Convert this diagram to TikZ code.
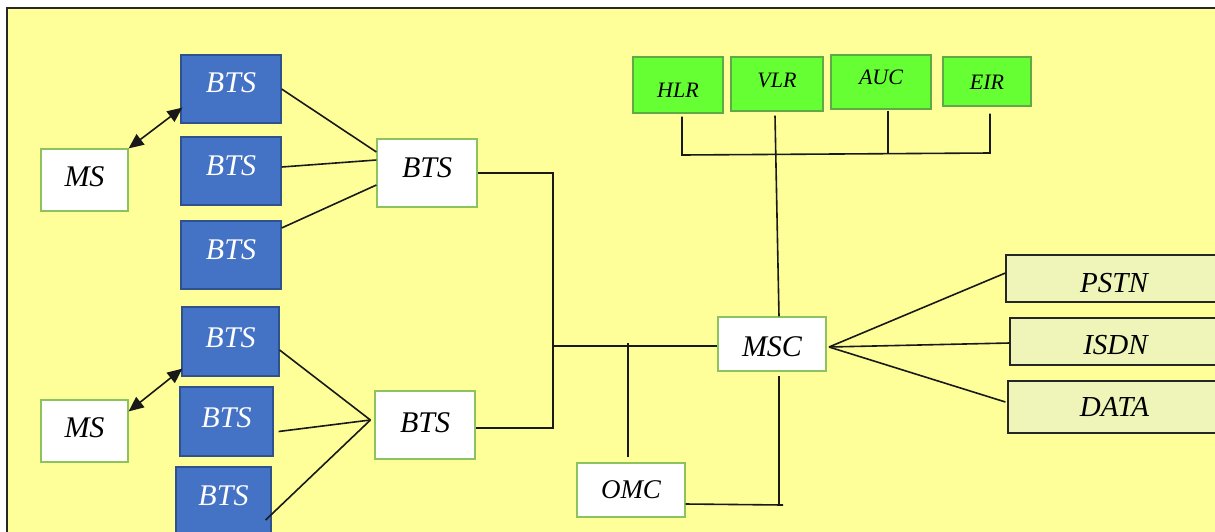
\documentclass[tikz,border=0pt]{standalone}
\usepackage{fontspec}
\setmainfont{Liberation Serif}
\usetikzlibrary{arrows.meta}

\definecolor{pagebg}{RGB}{255,255,153}
\definecolor{framecol}{RGB}{40,40,40}
\definecolor{boxedge}{RGB}{140,195,95}
\definecolor{btsfill}{RGB}{68,114,196}
\definecolor{btsedge}{RGB}{47,82,143}
\definecolor{dbfill}{RGB}{102,255,51}
\definecolor{dbedge}{RGB}{95,170,70}
\definecolor{netfill}{RGB}{239,244,185}
\definecolor{wirecol}{RGB}{25,25,25}

% text placed on the box centre, moved up by the optional amount
\newcommand\Txt[2][0pt]{\raisebox{\dimexpr-.331em+#1\relax}[0pt][0pt]{#2}}

\tikzset{
  boxbase/.style={inner sep=0pt, line width=1.2pt},
  sz/.style 2 args={minimum width=#1pt, minimum height=#2pt},
  whitebox/.style={boxbase, draw=boxedge, fill=white,
    font=\fontsize{30}{36}\selectfont\itshape},
  bluebox/.style={boxbase, draw=btsedge, fill=btsfill, text=white,
    font=\fontsize{30}{36}\selectfont\itshape},
  dbbox/.style={boxbase, draw=dbedge, fill=dbfill,
    font=\fontsize{22}{26}\selectfont\itshape},
  netbox/.style={boxbase, draw=black!85, fill=netfill,
    font=\fontsize{29}{34}\selectfont\itshape},
  wire/.style={draw=wirecol, line width=1.6pt},
  radio/.style={wire, {Triangle[length=15pt,width=13pt]}-{Triangle[length=15pt,width=13pt]}},
}

\begin{document}
\begin{tikzpicture}[x=1pt,y=-1pt]
\path[use as bounding box] (0,0) rectangle (1215,531);
\clip (0,0) rectangle (1215,531);
\fill[white] (0,0) rectangle (1215,531);
\draw[fill=pagebg, draw=framecol, line width=2pt] (7,8) rectangle (1240,560);

% radio side
\node[whitebox, sz={87}{62}] (MS1) at (84.5,180) {\Txt[3pt]{MS}};
\node[whitebox, sz={87}{62}] (MS2) at (84.5,431) {\Txt[3pt]{MS}};

\node[bluebox, sz={100}{68}] (BTS1) at (231,89) {\Txt[6pt]{BTS}};
\node[bluebox, sz={100}{68}] (BTS2) at (231,171) {\Txt[5pt]{BTS}};
\node[bluebox, sz={100}{68}] (BTS3) at (231,255) {\Txt[5pt]{BTS}};
\node[bluebox, sz={97}{69}] (BTS4) at (230.5,341.5) {\Txt[4pt]{BTS}};
\node[bluebox, sz={93}{69}] (BTS5) at (226.5,421.5) {\Txt[3.5pt]{BTS}};
\node[bluebox, sz={95}{69}] (BTS6) at (223.5,501.5) {\Txt[6pt]{BTS}};

\node[whitebox, sz={100}{68}] (BTSa) at (427,173) {\Txt[5pt]{BTS}};
\node[whitebox, sz={100}{68}] (BTSb) at (425,425) {\Txt[2.5pt]{BTS}};

% switching side
\node[whitebox, sz={108}{54}] (MSC) at (772,344) {\Txt[-3pt]{MSC}};
\node[whitebox, sz={108}{54}, font=\fontsize{27}{32}\selectfont\itshape] (OMC) at (631,490) {\Txt{OMC}};

\node[dbbox, sz={90}{56}] (HLR) at (678,85) {\Txt[-5.5pt]{HLR}};
\node[dbbox, sz={92}{54}] (VLR) at (777,84) {\Txt[4pt]{VLR}};
\node[dbbox, sz={100}{54}] (AUC) at (881,82) {\Txt[4.5pt]{AUC}};
\node[dbbox, sz={88}{49}] (EIR) at (987,81.5) {\Txt[-1pt]{EIR}};

\node[netbox, sz={216}{47}] (PSTN) at (1114,278.5) {\Txt[-4pt]{PSTN}};
\node[netbox, sz={211}{47}] (ISDN) at (1115.5,341.5) {\Txt[-3.5pt]{ISDN}};
\node[netbox, sz={213}{52}] (DATA) at (1114.5,407) {\Txt{DATA}};

% junction points
\coordinate (hubB) at ([xshift=-4pt,yshift=5pt]BTSb.west);
\coordinate (busTop) at (553,173);
\coordinate (busBot) at (553,428);
\coordinate (busMid) at (553,346);
\coordinate (gbusL) at (682,155);
\coordinate (gbusR) at (990,153);
\coordinate (omcCorner) at (779,505);
\coordinate (omcEnd) at (783,505);
\coordinate (hubM) at (829,347);

% MS to BTS radio links
\draw[radio] (MS1.north east) -- ([xshift=2pt,yshift=16pt]BTS1.south west);
\draw[radio] ([yshift=-12pt]MS2.north east) -- ([xshift=1pt,yshift=8pt]BTS4.south west);

% BTS groups to their controllers
\draw[wire] (BTS1.east) -- ([yshift=21pt]BTSa.west);
\draw[wire] ([yshift=4pt]BTS2.east) -- ([yshift=13pt]BTSa.west);
\draw[wire] ([yshift=27pt]BTS3.east) -- ([yshift=-12pt]BTSa.west);

\draw[wire] ([yshift=-8.5pt]BTS4.east) -- (hubB);
\draw[wire] ([xshift=5pt,yshift=-10pt]BTS5.east) -- (hubB);
\draw[wire] ([xshift=-6pt,yshift=-18.5pt]BTS6.east) -- (hubB);

% controller bus to MSC
\draw[wire] (BTSa.east) -- (busTop) -- (busBot) -- (busBot -| BTSb.east);
\draw[wire] (busMid) -- (MSC.west |- busMid);
\draw[wire] ([xshift=-3pt,yshift=5pt]OMC.north) -- ([xshift=-3pt]OMC.north |- 0,343);
\draw[wire] ([yshift=-14pt]OMC.east) -- (omcEnd);
\draw[wire] (omcCorner) -- ([xshift=7pt,yshift=-4pt]MSC.south);

% MSC to databases
\draw[wire] ([xshift=7pt]MSC.north) -- ([xshift=-2pt,yshift=-4pt]VLR.south);
\draw[wire] ([yshift=-3pt]HLR.south -| gbusL) -- (gbusL) -- (gbusR) -- ([yshift=-7pt]EIR.south -| gbusR);
\draw[wire] ([yshift=-1pt]AUC.south -| 888,0) -- (888,153);

% MSC to external networks
\draw[wire] (hubM) -- ([yshift=5.5pt]PSTN.west);
\draw[wire] (hubM) -- ([yshift=-1.5pt]ISDN.west);
\draw[wire] (hubM) -- ([xshift=-2pt,yshift=5pt]DATA.west);
\end{tikzpicture}
\end{document}
